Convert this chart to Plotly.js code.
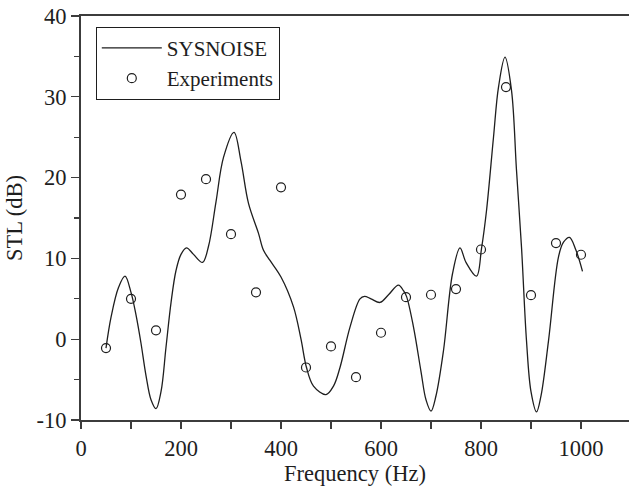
<!DOCTYPE html>
<html>
<head>
<meta charset="utf-8">
<script src="https://cdn.plot.ly/plotly-3.0.1.min.js"></script>
<style>html,body{margin:0;padding:0;background:#fff;}#chart{width:629px;height:487px;}</style>
</head>
<body>
<div id="chart"></div>
<script>
// SYSNOISE simulation curve (Hz, dB)
const simFreq = [50, 60, 75, 88, 100, 110, 120, 130, 140, 150, 160, 170, 180, 190, 200, 211, 225, 243, 255, 270, 285, 306, 320, 335, 355, 365, 378, 400, 425, 440, 451, 465, 490, 505, 518, 538, 558, 567, 580, 598, 615, 635, 645, 651, 665, 680, 690, 700, 710, 725, 743, 758, 770, 791, 801, 811, 825, 835, 848, 861, 871, 881, 891, 900, 911, 920, 935, 955, 965, 977, 990, 1003];
const simSTL  = [-1.1, 2.7, 6.4, 7.8, 5.8, 3.0, -0.5, -4.5, -7.5, -8.6, -6.5, -1.0, 4.5, 8.5, 10.5, 11.3, 10.5, 9.5, 11.5, 17.0, 22.5, 25.6, 22.0, 16.8, 13.1, 11.0, 9.75, 7.7, 4.0, 0.0, -3.5, -5.8, -6.85, -5.8, -3.5, 1.5, 5.0, 5.3, 5.0, 4.55, 5.5, 6.7, 6.0, 5.3, 1.5, -4.0, -7.5, -8.9, -7.0, -1.4, 8.1, 11.3, 9.5, 7.8, 11.2, 15.9, 25.0, 31.2, 34.9, 30.8, 20.9, 11.4, -0.2, -6.5, -9.0, -7.0, -0.2, 10.2, 12.0, 12.6, 11.0, 8.4];

// Experimental points
const expFreq = [50, 100, 150, 200, 250, 300, 350, 400, 450, 500, 550, 600, 650, 700, 750, 800, 850, 900, 950, 1000];
const expSTL  = [-1.1, 5.0, 1.1, 17.9, 19.8, 13.0, 5.8, 18.8, -3.5, -0.9, -4.7, 0.8, 5.2, 5.5, 6.2, 11.1, 31.2, 5.45, 11.9, 10.45];

const seriesNames = ["SYSNOISE", "Experiments"];
const xTitle = "Frequency (Hz)";
const yTitle = "STL (dB)";
const yTickVals = [-10, 0, 10, 20, 30, 40];
const yTickText = ["-10", "0", "10", "20", "30", "40"];

const ink = "#1e1e1e";
const axisCol = "#3c3c3c";
const fontFam = "Liberation Serif, Times New Roman, serif";
const fs = 22.5;

const traces = [
  {x: simFreq, y: simSTL, name: seriesNames[0], type: "scatter", mode: "lines",
   line: {color: ink, width: 1.3, shape: "spline", smoothing: 1}},
  {x: expFreq, y: expSTL, name: seriesNames[1], type: "scatter", mode: "markers",
   marker: {symbol: "circle-open", size: 9, color: ink, line: {width: 1.2, color: ink}}}
];

const layout = {
  width: 629, height: 487,
  margin: {l: 81, r: 0, t: 16, b: 67, pad: 0},
  paper_bgcolor: "#fff", plot_bgcolor: "#fff",
  font: {family: fontFam, size: fs, color: ink},
  showlegend: true,
  legend: {x: 0.027, y: 0.9735, xanchor: "left", yanchor: "top",
           bordercolor: ink, borderwidth: 1, bgcolor: "#fff",
           font: {family: fontFam, size: 21, color: ink},
           itemwidth: 60, tracegroupgap: 0},
  xaxis: {range: [0, 1096], tick0: 0, dtick: 200, ticks: "outside", ticklen: 7, tickwidth: 1.2,
          tickcolor: axisCol, showline: true, linecolor: axisCol, linewidth: 2, mirror: true,
          showgrid: false, zeroline: false,
          minor: {dtick: 100, tick0: 0, ticks: "outside", ticklen: 7, tickwidth: 1.2, tickcolor: axisCol, showgrid: false},
          tickfont: {family: fontFam, size: fs, color: ink},
          title: {text: xTitle, font: {family: fontFam, size: fs, color: ink}, standoff: 0}},
  yaxis: {range: [-10, 40], tickmode: "array", tickvals: yTickVals, ticktext: yTickText,
          ticks: "outside", ticklen: 8, tickwidth: 1.2,
          tickcolor: axisCol, showline: true, linecolor: axisCol, linewidth: 2, mirror: false,
          showgrid: false, zeroline: false,
          minor: {dtick: 5, tick0: 0, ticks: "outside", ticklen: 5, tickwidth: 1.2, tickcolor: axisCol, showgrid: false},
          tickfont: {family: fontFam, size: fs, color: ink},
          title: {text: yTitle, font: {family: fontFam, size: fs, color: ink}, standoff: 8}}
};

Plotly.newPlot("chart", traces, layout, {staticPlot: true, displayModeBar: false});
</script>
</body>
</html>
